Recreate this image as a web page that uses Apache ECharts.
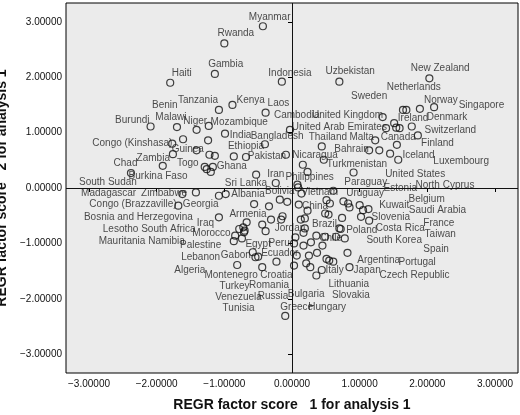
<!DOCTYPE html>
<html><head><meta charset="utf-8">
<script src="https://cdn.jsdelivr.net/npm/echarts@6/dist/echarts.min.js"></script>
<style>html,body{margin:0;padding:0;background:#fff}#c{width:520px;height:415px}</style>
</head><body><div id="c"></div>
<script>
const tickValues = [-3, -2, -1, 0, 1, 2, 3];
const pointX = [-0.43,-1.00,-1.14,-1.80,-0.15,-1.08,-0.88,-0.39,-2.09,-1.70,-1.41,-1.23,-1.61,-1.77,-1.24,-0.99,-0.40,-1.76,-1.41,-1.22,-1.14,-0.86,-0.68,-1.91,-1.29,-1.26,-1.20,-1.17,-2.38,-0.09,-0.53,-0.24,0.08,0.09,-0.03,-1.62,-1.42,-1.08,-0.98,-0.56,-0.34,-0.18,-0.07,0.10,0.14,0.61,-1.68,-1.08,-0.67,-0.44,-0.31,-0.14,-0.16,0.13,-0.72,-0.78,-0.70,-0.71,-0.84,-0.86,-0.74,-0.39,0.03,0.05,-0.58,-0.54,-0.50,-0.81,-0.44,-0.23,0.07,0.03,-0.10,0.47,0.44,0.16,0.23,0.70,2.03,1.64,1.69,1.89,2.10,1.34,1.51,1.39,1.54,1.59,1.77,1.86,1.23,1.55,1.14,1.29,1.45,1.57,0.91,0.23,0.51,0.56,0.76,0.83,0.85,1.00,1.13,1.05,0.49,0.54,0.74,1.02,1.14,0.19,0.70,0.72,0.19,0.36,0.28,0.45,0.78,0.17,0.37,0.25,0.82,0.51,0.55,0.61,0.21,0.27,0.44,0.36,0.85,0.17,0.49,0.65];
const pointY = [2.92,2.61,2.06,1.90,1.92,1.41,1.50,1.36,1.11,1.10,1.05,1.12,0.88,0.80,0.86,0.98,0.79,0.61,0.68,0.60,0.58,0.57,0.56,0.40,0.38,0.34,0.29,0.38,0.27,0.60,0.24,0.09,0.06,0.01,1.05,-0.11,-0.08,-0.14,-0.11,-0.29,-0.33,-0.21,-0.25,-0.30,-0.10,-0.05,-0.32,-0.53,-0.62,-0.66,-0.57,-0.51,-0.57,-0.57,-0.71,-0.74,-0.77,-0.80,-0.86,-0.96,-0.91,-0.78,-1.00,-0.89,-1.16,-1.25,-1.24,-1.39,-1.43,-1.33,-1.22,-1.40,-2.31,0.51,0.75,0.42,0.29,1.92,1.98,1.41,1.41,1.43,1.46,1.28,1.17,1.08,1.09,1.08,1.11,0.95,0.86,0.78,0.68,0.68,0.62,0.51,0.28,-0.41,-0.22,-0.28,-0.24,-0.28,-0.35,-0.31,-0.38,-0.40,-0.46,-0.48,-0.54,-0.52,-0.59,-0.55,-0.73,-0.74,-0.73,-0.86,-0.98,-1.04,-0.91,-1.04,-1.17,-1.22,-1.17,-1.28,-1.31,-1.33,-1.36,-1.43,-1.48,-1.58,-1.43,-0.81,-0.88,-0.88];
const labelNames = ["Myanmar","Rwanda","Gambia","Haiti","Indonesia","Benin","Tanzania","Kenya","Laos","Burundi","Malawi","Niger","Mozambique","India","Bangladesh","Congo (Kinshasa)","Guinea","Ethiopia","Pakistan","Zambia","Chad","Togo","Ghana","Burkina Faso","South Sudan","Iran","Sri Lanka","Madagascar","Zimbabwe","Albania","Bolivia","Cambodia","Nicaragua","Philippines","Vietnam","China","Jordan","Brazil","Armenia","Iraq","Morocco","Congo (Brazzaville)","Georgia","Bosnia and Herzegovina","Lesotho South Africa","Mauritania Namibia","Palestine","Egypt","Peru","Lebanon","Gabon","Ecuador","Algeria","Montenegro","Croatia","Turkey","Romania","Venezuela","Russia","Tunisia","Greece","Hungary","Bulgaria","Slovakia","Lithuania","Italy","Japan","Czech Republic","Argentina","Portugal","Spain","South Korea","Chile","Poland","Costa Rica","Taiwan","France","Slovenia","Saudi Arabia","Kuwait","Belgium","Uruguay","Estonia","North Cyprus","Paraguay","United States","Turkmenistan","Luxembourg","Iceland","Bahrain","Finland","Thailand","Malta","Canada","Switzerland","United Arab Emirates","Ireland","United Kingdom","Denmark","Singapore","Norway","Sweden","Netherlands","New Zealand","Uzbekistan"];
const labelX = [-0.33,-0.83,-0.98,-1.63,-0.03,-1.88,-1.39,-0.61,-0.20,-2.36,-1.79,-1.43,-0.78,-0.76,-0.22,-2.36,-1.54,-0.68,-0.37,-2.05,-2.46,-1.54,-0.89,-1.98,-2.72,-0.24,-0.68,-2.71,-1.89,-0.65,-0.18,0.07,0.34,0.26,0.41,0.34,-0.03,0.48,-0.65,-1.28,-1.19,-2.35,-1.35,-2.27,-2.11,-2.22,-1.35,-0.50,-0.19,-1.35,-0.83,-0.18,-1.51,-0.90,-0.23,-0.85,-0.34,-0.79,-0.28,-0.79,0.07,0.52,0.21,0.87,0.84,0.63,1.11,1.81,1.28,1.85,2.13,1.51,0.57,1.03,1.60,2.19,2.17,1.46,2.15,1.51,1.99,1.08,1.60,2.26,1.09,1.82,0.96,2.50,1.87,0.88,2.15,0.53,1.03,1.57,2.34,0.70,1.79,0.82,2.29,2.80,2.20,1.14,1.80,2.19,0.86];
const labelY = [3.09,2.79,2.24,2.08,2.08,1.50,1.58,1.59,1.53,1.23,1.27,1.20,1.18,0.96,0.93,0.80,0.70,0.76,0.58,0.53,0.44,0.44,0.40,0.22,0.11,0.25,0.09,-0.09,-0.10,-0.11,-0.05,1.32,0.60,0.20,-0.08,-0.33,-0.73,-0.65,-0.47,-0.64,-0.82,-0.30,-0.29,-0.53,-0.75,-0.97,-1.03,-1.01,-0.99,-1.25,-1.21,-1.18,-1.48,-1.57,-1.57,-1.78,-1.76,-1.98,-1.96,-2.18,-2.15,-2.15,-1.91,-1.94,-1.73,-1.49,-1.49,-1.58,-1.30,-1.34,-1.10,-0.94,-0.90,-0.76,-0.73,-0.83,-0.64,-0.52,-0.41,-0.31,-0.20,-0.09,0.00,0.05,0.11,0.25,0.42,0.49,0.59,0.70,0.81,0.91,0.91,0.91,1.04,1.10,1.26,1.31,1.28,1.49,1.59,1.65,1.82,2.16,2.10];

const pts = pointX.map((x, i) => [x, pointY[i]]);
const labs = labelNames.map((n, i) => ({ name: n, value: [labelX[i], labelY[i]] }));
const font = '"Liberation Sans", Arial, sans-serif';
const fmt = v => (v < 0 ? '\u2212' : '') + Math.abs(v).toFixed(5);

const axisCommon = {
  type: 'value', min: -3.34, max: 3.34,
  splitLine: { show: false },
  axisLine: { show: false },
  axisTick: { show: true, customValues: tickValues, length: 4, lineStyle: { color: '#000' } },
  axisLabel: { customValues: tickValues, formatter: fmt, color: '#111', fontSize: 10, fontFamily: font },
  nameLocation: 'middle',
  nameTextStyle: { fontWeight: 'bold', fontSize: 14, color: '#111', fontFamily: font }
};

const chart = echarts.init(document.getElementById('c'));
chart.setOption({
  animation: false,
  backgroundColor: '#fff',
  grid: { left: 66, right: 2, top: 3, bottom: 42, outerBoundsMode: 'none', containLabel: false, show: true, backgroundColor: '#ebebeb', borderColor: '#000', borderWidth: 1 },
  xAxis: Object.assign({}, axisCommon, { name: 'REGR factor score   1 for analysis 1', nameGap: 25, axisLabel: Object.assign({}, axisCommon.axisLabel, { margin: 6 }) }),
  yAxis: Object.assign({}, axisCommon, { name: 'REGR factor score   2 for analysis 1', nameGap: 50, axisLabel: Object.assign({}, axisCommon.axisLabel, { margin: 4 }) }),
  series: [
    {
      type: 'scatter', data: pts, symbol: 'circle', symbolSize: 7, z: 3,
      itemStyle: { color: 'rgba(0,0,0,0)', borderColor: '#111', borderWidth: 1.2 },
      markLine: {
        silent: true, symbol: 'none', label: { show: false },
        lineStyle: { color: '#111', width: 1, type: 'solid' },
        data: [{ xAxis: 0 }, { yAxis: 0 }]
      }
    },
    {
      type: 'scatter', data: labs, symbolSize: 0, z: 4, silent: true,
      label: { show: true, position: 'inside', formatter: p => p.name, color: '#222', fontSize: 10, fontFamily: font }
    }
  ]
});
</script></body></html>
